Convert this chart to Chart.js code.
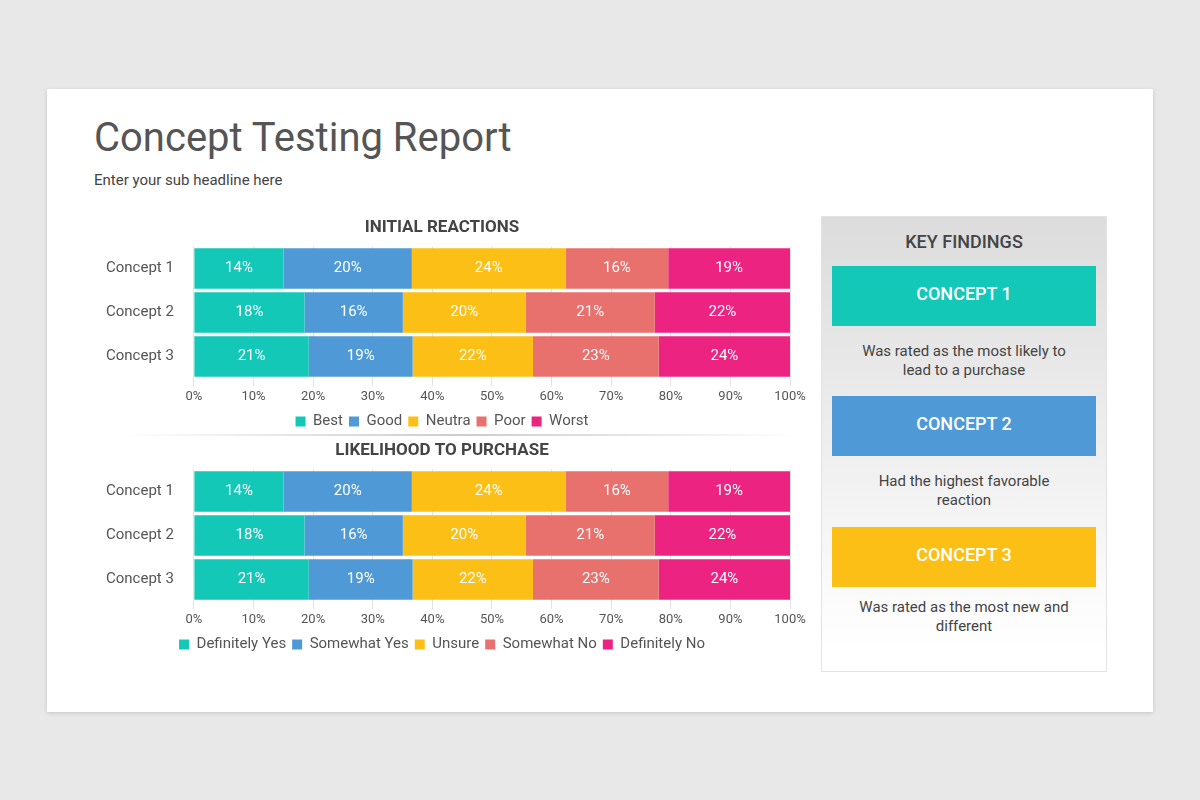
<!DOCTYPE html>
<html>
<head>
<meta charset="utf-8">
<script src="https://cdn.jsdelivr.net/npm/chart.js@4/dist/chart.umd.min.js"></script>
<style>
  body { margin:0; width:1200px; height:800px; background:#e9e8e9; font-family:Roboto, sans-serif; position:relative; overflow:hidden; }
  .card { position:absolute; left:47px; top:89px; width:1106px; height:623px; background:#fff; box-shadow:0 1px 4px rgba(0,0,0,0.15); }
  h1 { position:absolute; left:94px; top:114px; margin:0; font-weight:400; font-size:40px; color:#555; }
  .sub { position:absolute; left:94px; top:171px; font-size:15px; color:#444; }
  .wrap { position:absolute; left:94px; width:720px; height:225px; }
  .divider { position:absolute; left:120px; top:434px; width:680px; height:2px; background:linear-gradient(to right, rgba(200,200,200,0), #ccc, rgba(200,200,200,0)); }
  .panel { position:absolute; left:821px; top:216px; width:284px; height:454px; border:1px solid #e2e2e2; background:linear-gradient(#dcdcdc, #fff 95%); }
  .panel h2 { margin:14px 0 0; text-align:center; font-size:18px; font-weight:500; color:#444; }
  .box { position:absolute; left:10px; width:264px; height:60px; color:#fff; font-size:18px; font-weight:500; text-align:center; line-height:56px; }
  .txt { position:absolute; left:10px; width:264px; text-align:center; font-size:15px; color:#444; line-height:19px; }
</style>
</head>
<body>
<div class="card"></div>
<h1>Concept Testing Report</h1>
<div class="sub">Enter your sub headline here</div>
<div class="wrap" style="top:214px"><canvas id="chart1" width="720" height="225"></canvas></div>
<div class="divider"></div>
<div class="wrap" style="top:437px"><canvas id="chart2" width="720" height="225"></canvas></div>
<div class="panel">
  <h2>KEY FINDINGS</h2>
  <div class="box" style="top:49px;background:#14c8b8">CONCEPT 1</div>
  <div class="txt" style="top:125px">Was rated as the most likely to<br>lead to a purchase</div>
  <div class="box" style="top:179px;background:#4f9ad6">CONCEPT 2</div>
  <div class="txt" style="top:255px">Had the highest favorable<br>reaction</div>
  <div class="box" style="top:310px;background:#fbbf16">CONCEPT 3</div>
  <div class="txt" style="top:381px">Was rated as the most new and<br>different</div>
</div>
<script>
const concepts = ['Concept 1', 'Concept 2', 'Concept 3'];
const reactionLabels = ['Best', 'Good', 'Neutra', 'Poor', 'Worst'];
const purchaseLabels = ['Definitely Yes', 'Somewhat Yes', 'Unsure', 'Somewhat No', 'Definitely No'];
// one array per segment, values for Concept 1..3
const seg1 = [14, 18, 21];
const seg2 = [20, 16, 19];
const seg3 = [24, 20, 22];
const seg4 = [16, 21, 23];
const seg5 = [19, 22, 24];
const xTicks = [0, 10, 20, 30, 40, 50, 60, 70, 80, 90, 100];
const colors = ['#14c8b8', '#4f9ad6', '#fbbf16', '#e8716e', '#ec2381'];

// Etiquettes dans les barres
const barLabels = {
    id: 'barLabels',
    afterDatasetsDraw(chart) {
        const ctx = chart.ctx;
        ctx.save();
        ctx.fillStyle = '#fff';
        ctx.font = '15px Roboto';
        ctx.textAlign = 'center';
        ctx.textBaseline = 'middle';
        chart.data.datasets.forEach((ds, i) => {
            chart.getDatasetMeta(i).data.forEach((bar, j) => {
                const x = (bar.x + bar.base) / 2;
                ctx.fillText(ds.raw[j] + '%', x, bar.y);
            });
        });
        ctx.restore();
    }
};

function makeChart(id, title, names) {
    const series = [seg1, seg2, seg3, seg4, seg5];
    const totals = concepts.map((c, j) => series.reduce((s, a) => s + a[j], 0));
    new Chart(document.getElementById(id), {
        type: 'bar',
        data: {
            labels: concepts,
            datasets: series.map((a, i) => ({
                label: names[i],
                raw: a,
                data: a.map((v, j) => v / totals[j] * 100),
                backgroundColor: colors[i],
                categoryPercentage: 1,
                barPercentage: 0.92
            }))
        },
        options: {
            indexAxis: 'y',
            responsive: false,
            animation: false,
            layout: { padding: { right: 24, left: 0 } },
            plugins: {
                title: { display: true, text: title, color: '#444', font: { family: 'Roboto', size: 17, weight: 'bold' }, padding: { top: 4, bottom: 8 } },
                legend: { position: 'bottom', labels: { boxWidth: 10, boxHeight: 10, color: '#555', font: { family: 'Roboto', size: 15 }, padding: 6 } },
                tooltip: { enabled: false }
            },
            scales: {
                x: {
                    stacked: true, min: 0, max: 100,
                    afterBuildTicks: ax => { ax.ticks = xTicks.map(v => ({ value: v })); },
                    ticks: { callback: v => v + '%', color: '#555', font: { family: 'Roboto', size: 13 } },
                    grid: { color: '#e3e3e3' },
                    border: { display: false }
                },
                y: {
                    stacked: true,
                    ticks: { color: '#555', font: { family: 'Roboto', size: 15 }, padding: 12 },
                    grid: { display: false },
                    border: { display: false }
                }
            }
        },
        plugins: [barLabels]
    });
}

makeChart('chart1', 'INITIAL REACTIONS', reactionLabels);
makeChart('chart2', 'LIKELIHOOD TO PURCHASE', purchaseLabels);
</script>
</body>
</html>
